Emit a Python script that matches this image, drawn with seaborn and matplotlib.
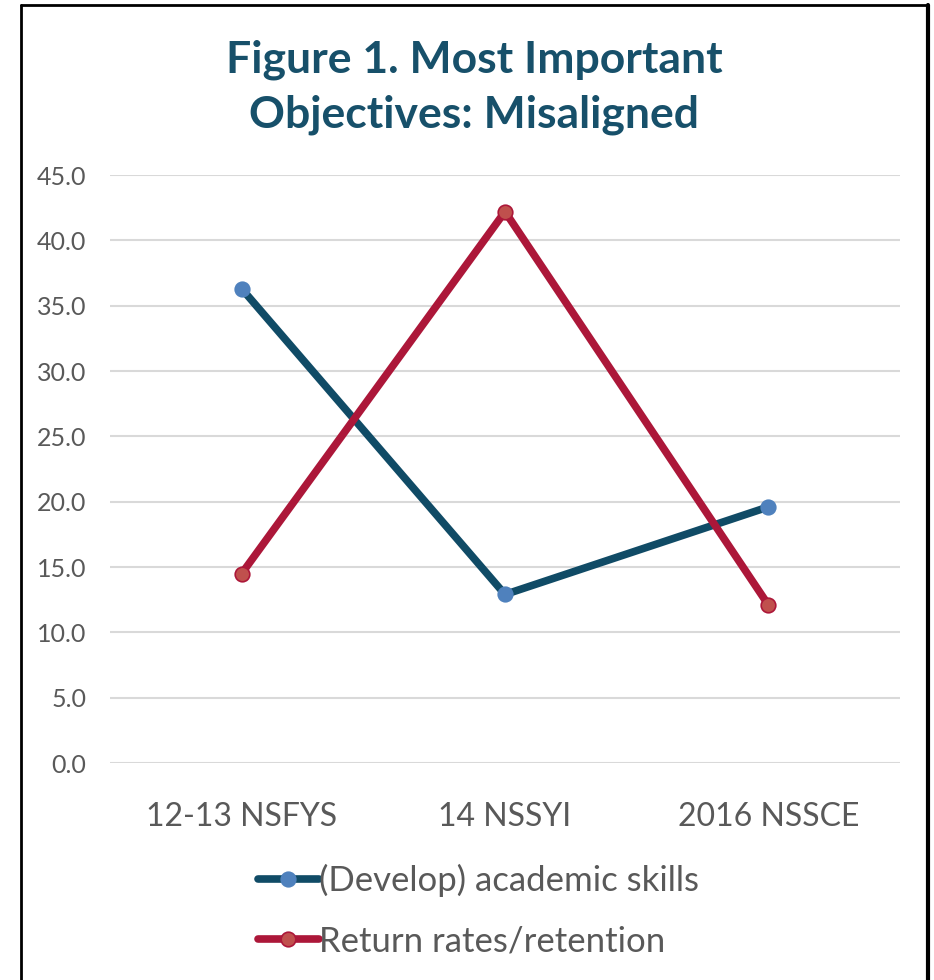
import matplotlib
matplotlib.use('Agg')
import matplotlib.pyplot as plt
import seaborn as sns
import pandas as pd
from matplotlib.lines import Line2D

# Dati
categorie = ['12-13 NSFYS', '14 NSSYI', '2016 NSSCE']
academic_skills = [36.3, 12.9, 19.6]
retention = [14.5, 42.2, 12.1]
serie = ['(Develop) academic skills', 'Return rates/retention']

df = pd.DataFrame({
    'survey': categorie * 2,
    'valore': academic_skills + retention,
    'serie': [serie[0]] * 3 + [serie[1]] * 3,
})

sns.set_style('white')
plt.rcParams['font.family'] = ['Lato', 'DejaVu Sans']

fig = plt.figure(figsize=(9.34, 9.8), dpi=100)
ax = fig.add_axes([0.1178, 0.2214, 0.8458, 0.6])

colori_linea = {serie[0]: '#104B66', serie[1]: '#AC1739'}
colori_punto = {serie[0]: '#4F81BD', serie[1]: '#C0504D'}
bordo_punto = {serie[0]: '#4F81BD', serie[1]: '#AC1739'}

for s in serie:
    sub = df[df['serie'] == s]
    sns.lineplot(data=sub, x='survey', y='valore', ax=ax, color=colori_linea[s],
                 linewidth=5.5, marker='o', markersize=10.5,
                 markerfacecolor=colori_punto[s], markeredgecolor=bordo_punto[s],
                 markeredgewidth=1.2, label=s, sort=False, zorder=3)

ax.set_xlim(-0.5, 2.5)
ax.set_ylim(0, 45)
ax.set_yticks(range(0, 46, 5))
ax.set_yticklabels([f'{v:.1f}' for v in range(0, 46, 5)])
ax.yaxis.grid(True, color='#D9D9D9', linewidth=1.5)
ax.set_axisbelow(True)
for sp in ax.spines.values():
    sp.set_visible(False)
ax.set_xlabel('')
ax.set_ylabel('')
ax.tick_params(axis='y', labelsize=18, colors='#595959', length=0, pad=17)
ax.tick_params(axis='x', labelsize=23, colors='#595959', length=0, pad=28)

fig.suptitle('Figure 1. Most Important\nObjectives: Misaligned', x=0.508, y=0.96,
             fontsize=32, fontweight='bold', color='#17506A', linespacing=1.45)

leg = ax.legend(loc='upper left', bbox_to_anchor=(0.187, -0.172), frameon=False,
                fontsize=25, labelcolor='#595959', handlelength=1.75,
                handletextpad=0.0, labelspacing=0.8, borderpad=0,
                borderaxespad=0)

# cornice intorno al grafico
fig.add_artist(Line2D([21/934, 21/934], [0, 1 - 5/980], color='black', linewidth=2))
fig.add_artist(Line2D([21/934, 928/934], [1 - 5/980, 1 - 5/980], color='black', linewidth=2))
fig.add_artist(Line2D([928/934, 928/934], [0, 1 - 5/980], color='black', linewidth=3))

fig.savefig('out.png', dpi=100)
